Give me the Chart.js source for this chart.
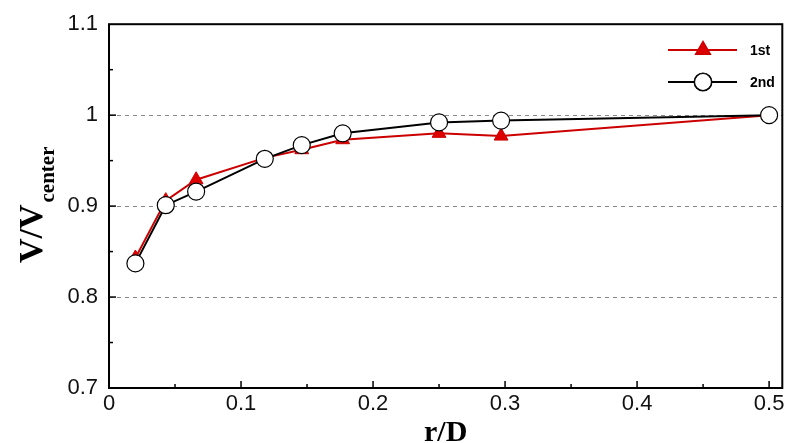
<!DOCTYPE html>
<html>
<head>
<meta charset="utf-8">
<script src="https://cdn.jsdelivr.net/npm/chart.js@4.4.0/dist/chart.umd.min.js"></script>
<style>
  html, body { margin: 0; padding: 0; background: #fff; }
  #wrap { width: 792px; height: 443px; }
</style>
</head>
<body>
<div id="wrap"><canvas id="myChart"></canvas></div>
<script>
// values
const rD1st = [0.02, 0.043, 0.066, 0.118, 0.146, 0.177, 0.25, 0.297, 0.5];
const v1st = [0.843, 0.906, 0.929, 0.953, 0.962, 0.973, 0.980, 0.977, 1.0];
const rD2nd = [0.02, 0.043, 0.066, 0.118, 0.146, 0.177, 0.25, 0.297, 0.5];
const v2nd = [0.837, 0.901, 0.916, 0.952, 0.967, 0.980, 0.992, 0.994, 1.0];
const yTicks = [0.7, 0.8, 0.9, 1.0, 1.1];
const xTicks = [0, 0.1, 0.2, 0.3, 0.4, 0.5];

function toPoints(xs, ys) {
  return xs.map((x, i) => ({ x: x, y: ys[i] }));
}

// frame, inward ticks, axis titles and legend
const decor = {
  id: 'decor',
  afterDraw(chart) {
    const ctx = chart.ctx;
    const a = chart.chartArea;
    const xs = chart.scales.x, ys = chart.scales.y;
    ctx.save();
    ctx.strokeStyle = '#000';
    ctx.lineWidth = 1.5;
    // minor / major ticks pointing inward
    for (let v = 0.05; v < 0.51; v += 0.05) {
      const px = xs.getPixelForValue(v);
      const major = Math.abs(v * 10 - Math.round(v * 10)) < 1e-6;
      ctx.beginPath();
      ctx.moveTo(px, a.bottom);
      ctx.lineTo(px, a.bottom - (major ? 7 : 4));
      ctx.stroke();
    }
    for (let v = 0.75; v < 1.1; v += 0.05) {
      const py = ys.getPixelForValue(v);
      const major = Math.abs(v * 10 - Math.round(v * 10)) < 1e-6;
      ctx.beginPath();
      ctx.moveTo(a.left, py);
      ctx.lineTo(a.left + (major ? 7 : 4), py);
      ctx.stroke();
    }
    // frame
    ctx.lineWidth = 2;
    ctx.strokeRect(a.left, a.top, a.right - a.left, a.bottom - a.top);

    // y title V/V_center
    ctx.fillStyle = '#000';
    ctx.translate(42, 263);
    ctx.rotate(-Math.PI / 2);
    ctx.textAlign = 'left';
    ctx.textBaseline = 'alphabetic';
    ctx.font = 'bold 34px "Liberation Serif", "Times New Roman", serif';
    ctx.fillText('V/V', 0, 0);
    const w = ctx.measureText('V/V').width;
    ctx.font = 'bold 21px "Liberation Serif", "Times New Roman", serif';
    ctx.fillText('center', w + 2, 12);
    ctx.restore();

    // x title
    ctx.save();
    ctx.fillStyle = '#000';
    ctx.font = 'bold 30px "Liberation Serif", "Times New Roman", serif';
    ctx.textAlign = 'center';
    ctx.textBaseline = 'alphabetic';
    ctx.fillText('r/D', (a.left + a.right) / 2, 441);

    // legend
    const rows = [{ ds: chart.data.datasets[0], y: 50 }, { ds: chart.data.datasets[1], y: 82 }];
    rows.forEach(r => {
      ctx.strokeStyle = r.ds.borderColor;
      ctx.lineWidth = 2;
      ctx.beginPath();
      ctx.moveTo(668, r.y);
      ctx.lineTo(737, r.y);
      ctx.stroke();
      Chart.helpers.drawPoint(ctx, {
        pointStyle: r.ds.pointStyle,
        radius: r.ds.pointRadius,
        borderWidth: r.ds.pointBorderWidth
      }, 703, r.y);
      ctx.fillStyle = r.ds.pointBackgroundColor;
      ctx.strokeStyle = r.ds.pointBorderColor;
      ctx.lineWidth = r.ds.pointBorderWidth;
      ctx.fill();
      ctx.stroke();
      ctx.fillStyle = '#000';
      ctx.font = 'bold 14px "Liberation Sans", Arial, sans-serif';
      ctx.textAlign = 'left';
      ctx.textBaseline = 'middle';
      ctx.fillText(r.ds.label, 750, r.y + 1);
    });
    ctx.restore();
  }
};

document.addEventListener('DOMContentLoaded', function () {
  const ctx = document.getElementById('myChart').getContext('2d');
  new Chart(ctx, {
    type: 'scatter',
    data: {
      datasets: [{
        label: '1st',
        data: toPoints(rD1st, v1st),
        showLine: true,
        borderColor: '#cc0000',
        borderWidth: 2,
        pointStyle: 'triangle',
        pointRadius: 8,
        pointBackgroundColor: '#dd0000',
        pointBorderColor: '#cc0000',
        pointBorderWidth: 1,
        order: 1
      }, {
        label: '2nd',
        data: toPoints(rD2nd, v2nd),
        showLine: true,
        borderColor: '#000',
        borderWidth: 2,
        pointStyle: 'circle',
        pointRadius: 8.5,
        pointBackgroundColor: '#fff',
        pointBorderColor: '#000',
        pointBorderWidth: 1.2,
        order: 0
      }]
    },
    options: {
      responsive: true,
      maintainAspectRatio: false,
      animation: false,
      layout: { padding: { top: 24, right: 7, left: 0, bottom: 0 } },
      plugins: { legend: { display: false }, tooltip: { enabled: false } },
      scales: {
        x: {
          type: 'linear',
          min: 0,
          max: 0.51,
          afterFit: s => { s.height = 55; },
          afterBuildTicks: s => { s.ticks = xTicks.map(v => ({ value: v })); },
          ticks: {
            includeBounds: false,
            padding: 3,
            color: '#111',
            font: { family: '"Liberation Sans", Arial, sans-serif', size: 22 },
            callback: v => String(Math.round(v * 10) / 10)
          },
          grid: { display: false, drawTicks: false },
          border: { display: false }
        },
        y: {
          min: 0.7,
          max: 1.1,
          afterFit: s => { s.width = 109; },
          afterBuildTicks: s => { s.ticks = yTicks.map(v => ({ value: v })); },
          ticks: {
            padding: 11,
            color: '#111',
            font: { family: '"Liberation Sans", Arial, sans-serif', size: 22 },
            callback: v => String(Math.round(v * 10) / 10)
          },
          grid: {
            drawTicks: false,
            color: c => (c.tick && c.tick.value > 0.75 && c.tick.value < 1.05) ? '#888' : 'rgba(0,0,0,0)',
            lineWidth: 1
          },
          border: { display: false, dash: [4, 4] }
        }
      }
    },
    plugins: [decor]
  });
});
</script>
</body>
</html>
